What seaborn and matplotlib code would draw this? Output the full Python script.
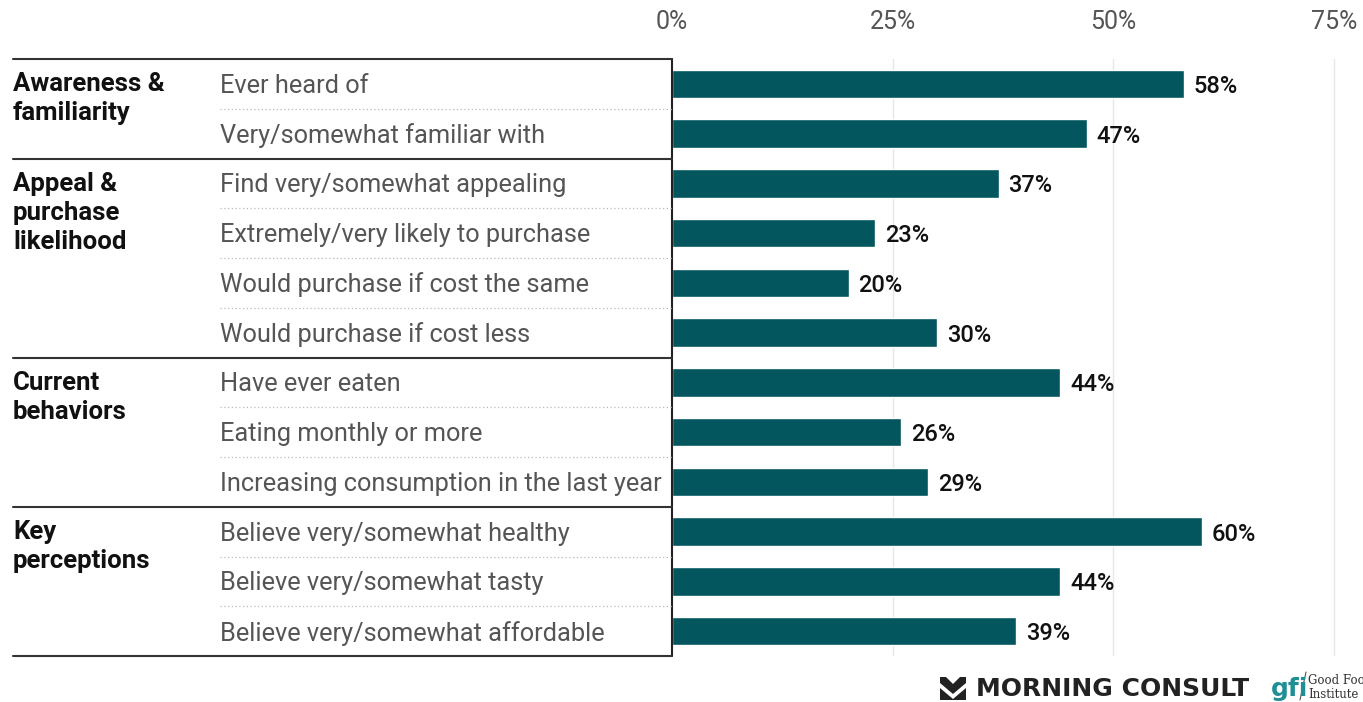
import matplotlib
matplotlib.use("Agg")
import matplotlib.pyplot as plt
import matplotlib.lines as mlines
from matplotlib.patches import Polygon
import seaborn as sns
import pandas as pd

groups = ["Awareness &\nfamiliarity", "Appeal &\npurchase\nlikelihood", "Current\nbehaviors", "Key\nperceptions"]
group_sizes = [2, 4, 3, 3]
items = [
    "Ever heard of",
    "Very/somewhat familiar with",
    "Find very/somewhat appealing",
    "Extremely/very likely to purchase",
    "Would purchase if cost the same",
    "Would purchase if cost less",
    "Have ever eaten",
    "Eating monthly or more",
    "Increasing consumption in the last year",
    "Believe very/somewhat healthy",
    "Believe very/somewhat tasty",
    "Believe very/somewhat affordable",
]
values = [58, 47, 37, 23, 20, 30, 44, 26, 29, 60, 44, 39]
ticks = [0, 25, 50, 75]

BAR = "#03555e"
FONT = ["Roboto", "DejaVu Sans"]

sns.set_style("white")
plt.rcParams["font.family"] = FONT

W, H = 1363, 702
fig = plt.figure(figsize=(W / 100, H / 100), dpi=100)

x0, y_top, y_bot = 672, 59, 656
px_per_pct = (1334 - 672) / 75
xmax = (W - x0) / px_per_pct
ax = fig.add_axes([x0 / W, 1 - y_bot / H, (W - x0) / W, (y_bot - y_top) / H])

df = pd.DataFrame({"item": items, "value": values})
sns.barplot(data=df, y="item", x="value", orient="h", color=BAR, saturation=1,
            width=0.57, ax=ax, order=items)
ax.set_xlim(0, xmax)
ax.set_ylim(len(items) - 0.5, -0.5)
ax.set_xlabel("")
ax.set_ylabel("")
ax.set_yticks([])
ax.set_xticks(ticks)
ax.set_xticklabels([f"{t}%" for t in ticks], fontsize=18, color="#555555")
ax.xaxis.tick_top()
ax.tick_params(axis="x", length=0, pad=18)
for t in ticks[1:]:
    ax.axvline(t, color="#e6e6e6", lw=1, zorder=0)
for s in ax.spines.values():
    s.set_visible(False)

for i, v in enumerate(values):
    ax.text(v + 10 / px_per_pct, i + 0.05, f"{v}%", va="center", ha="left",
            fontsize=17, fontweight="medium", color="#111111")

# left-hand table, drawn in figure pixel coordinates
row_h = (y_bot - y_top) / len(items)

def fy(y):
    return 1 - y / H

def fx(x):
    return x / W

fig.add_artist(mlines.Line2D([fx(x0), fx(x0)], [fy(y_top), fy(y_bot)], color="#222222", lw=1.5))
bounds = [0]
for n in group_sizes:
    bounds.append(bounds[-1] + n)
for b in bounds:
    y = y_top + b * row_h
    fig.add_artist(mlines.Line2D([fx(13), fx(x0)], [fy(y), fy(y)], color="#333333", lw=1.5))

for i, lab in enumerate(items):
    yc = y_top + (i + 0.5) * row_h + 2
    fig.text(fx(220), fy(yc), lab, ha="left", va="center", fontsize=18.3, color="#555555")
    if i + 1 not in bounds:
        y = y_top + (i + 1) * row_h
        fig.add_artist(mlines.Line2D([fx(220), fx(x0)], [fy(y), fy(y)], color="#bbbbbb",
                                     lw=0.9, linestyle=(0, (1, 2))))

for g, start in zip(groups, bounds[:-1]):
    y = y_top + start * row_h + 13
    fig.text(fx(13), fy(y), g, ha="left", va="top", fontsize=18.5, fontweight="bold",
             color="#111111", linespacing=1.27)

# footer logos
fig.add_artist(Polygon([(fx(940), fy(677)), (fx(946), fy(677)), (fx(953), fy(684)),
                        (fx(960), fy(677)), (fx(966), fy(677)), (fx(966), fy(683)),
                        (fx(953), fy(694)), (fx(940), fy(683))],
                       closed=True, facecolor="#222222", edgecolor="none"))
fig.add_artist(Polygon([(fx(940), fy(688)), (fx(953), fy(699)), (fx(966), fy(688)),
                        (fx(966), fy(700)), (fx(940), fy(700))],
                       closed=True, facecolor="#222222", edgecolor="none"))
fig.text(fx(976), fy(689), "MORNING CONSULT", ha="left", va="center", fontsize=18,
         fontweight="bold", color="#222222", family=["DejaVu Sans"])
fig.text(fx(1271), fy(689), "gfi", ha="left", va="center", fontsize=18, fontweight="bold",
         color="#1f8f96", family=["DejaVu Sans"])
fig.add_artist(mlines.Line2D([fx(1300), fx(1306)], [fy(700), fy(672)], color="#555555", lw=0.8))
fig.text(fx(1308), fy(681), "Good Food", ha="left", va="center", fontsize=8.5,
         color="#333333", family=["DejaVu Serif"])
fig.text(fx(1308), fy(694), "Institute", ha="left", va="center", fontsize=8.5,
         color="#333333", family=["DejaVu Serif"])

fig.savefig("out.png", dpi=100)
